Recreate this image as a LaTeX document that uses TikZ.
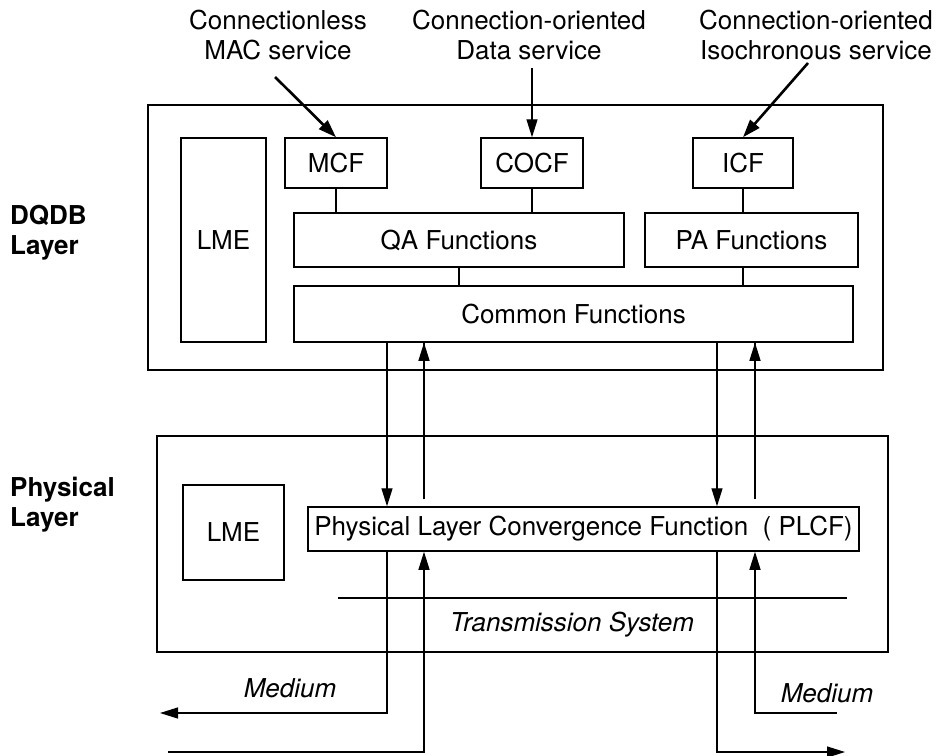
\documentclass[tikz,border=0pt]{standalone}
\usepackage{fontspec}
\setmainfont{TeX Gyre Heros}
\usetikzlibrary{arrows.meta}
\tikzset{
  box/.style={draw, line width=1.5pt, inner sep=0pt, anchor=center},
  conn/.style={line width=1.3pt},
  arr/.style={line width=1.3pt, -{Triangle[length=18pt,width=11pt]}},
  thickarr/.style={line width=2.6pt, -{Triangle[length=18pt,width=12pt]}},
  lbl/.style={align=center, inner sep=0pt, font=\fontsize{26}{30}\selectfont},
  side/.style={align=left, anchor=west, inner sep=0pt, font=\fontsize{26}{30}\selectfont\bfseries},
  txt/.style={font=\fontsize{26}{30}\selectfont},
  itxt/.style={font=\fontsize{26}{30}\selectfont\itshape}
}
\begin{document}
\begin{tikzpicture}[x=1pt,y=-1pt]
\useasboundingbox (0,0) rectangle (939,755);
% DQDB layer
\node[box, minimum width=735, minimum height=265] (dqdb) at (515.5,237.5) {};
\node[box, minimum width=85, minimum height=204, txt] (lme1) at (223.5,240) {LME};
\node[box, minimum width=102, minimum height=50, txt] (mcf) at (336,163) {MCF};
\node[box, minimum width=102, minimum height=50, txt] (cocf) at (532,163) {COCF};
\node[box, minimum width=100, minimum height=50, txt] (icf) at (743,163) {ICF};
\node[box, minimum width=330, minimum height=54, txt] (qa) at (459,240) {QA Functions};
\node[box, minimum width=213, minimum height=54, txt] (pa) at (751.5,240) {PA Functions};
\node[box, minimum width=559, minimum height=56, txt] (common) at (573.5,314) {Common Functions};
\node[side] (dqdblbl) at (10,233) {DQDB\\Layer};
% top labels
\node[lbl] (lab1) at (278,35) {Connectionless\\MAC service};
\node[lbl] (lab2) at (529,35) {Connection-oriented\\Data service};
\node[lbl] (lab3) at (816,35) {Connection-oriented\\Isochronous service};
\coordinate (a1) at (275,77);
\coordinate (a3) at (808,63);
\draw[thickarr] (a1) -- (mcf.north);
\draw[arr] (lab2.south -| cocf.north) ++(0,8) -- (cocf.north);
\draw[thickarr] (a3) -- (icf.north);
% internal connectors
\draw[conn] (mcf.south) -- (mcf.south |- qa.north);
\draw[conn] (cocf.south) -- (cocf.south |- qa.north);
\draw[conn] (icf.south) -- (icf.south |- pa.north);
\draw[conn] (qa.south) -- (qa.south |- common.north);
\draw[conn] (icf.south |- pa.south) -- (icf.south |- common.north);
% Physical layer
\node[box, minimum width=731, minimum height=216] (phys) at (522.5,544) {};
\node[box, minimum width=101, minimum height=95, txt] (lme2) at (233.5,532.5) {LME};
\node[box, minimum width=551, minimum height=44, txt] (plcf) at (583.5,529) {Physical Layer Convergence Function\ \ ( PLCF)};
\node[side] (physlbl) at (10,505) {Physical\\Layer};
\coordinate (ts1) at (338,598);
\coordinate (ts2) at (847,598);
\draw[conn] (ts1) -- (ts2);
\node[itxt] (tsys) at (572,625) {Transmission System};
% inter-layer arrows
\coordinate (c1) at (387,0);
\coordinate (c2) at (424,0);
\coordinate (c3) at (717,0);
\coordinate (c4) at (755,0);
\draw[arr] (c1 |- common.south) -- (c1 |- plcf.north);
\draw[conn] (c2 |- plcf.north) ++(0,-7) -- (c2 |- common.south);
\draw[arr] (c2 |- common.south) ++(0,25) -- (c2 |- common.south);
\draw[arr] (c3 |- common.south) -- (c3 |- plcf.north);
\draw[conn] (c4 |- plcf.north) ++(0,-7) -- (c4 |- common.south);
\draw[arr] (c4 |- common.south) ++(0,25) -- (c4 |- common.south);
% medium
\coordinate (ml) at (160,713);
\coordinate (mlb) at (168,752);
\coordinate (mr) at (845,752);
\coordinate (mrb) at (837,713);
\draw[arr] (c1 |- plcf.south) |- (ml);
\draw[arr] (mlb) -| (c2 |- plcf.south);
\draw[arr] (c3 |- plcf.south) |- (mr);
\draw[arr] (mrb) -| (c4 |- plcf.south);
\node[itxt] (med1) at (290,688) {Medium};
\node[itxt] (med2) at (827,693) {Medium};
\end{tikzpicture}
\end{document}
